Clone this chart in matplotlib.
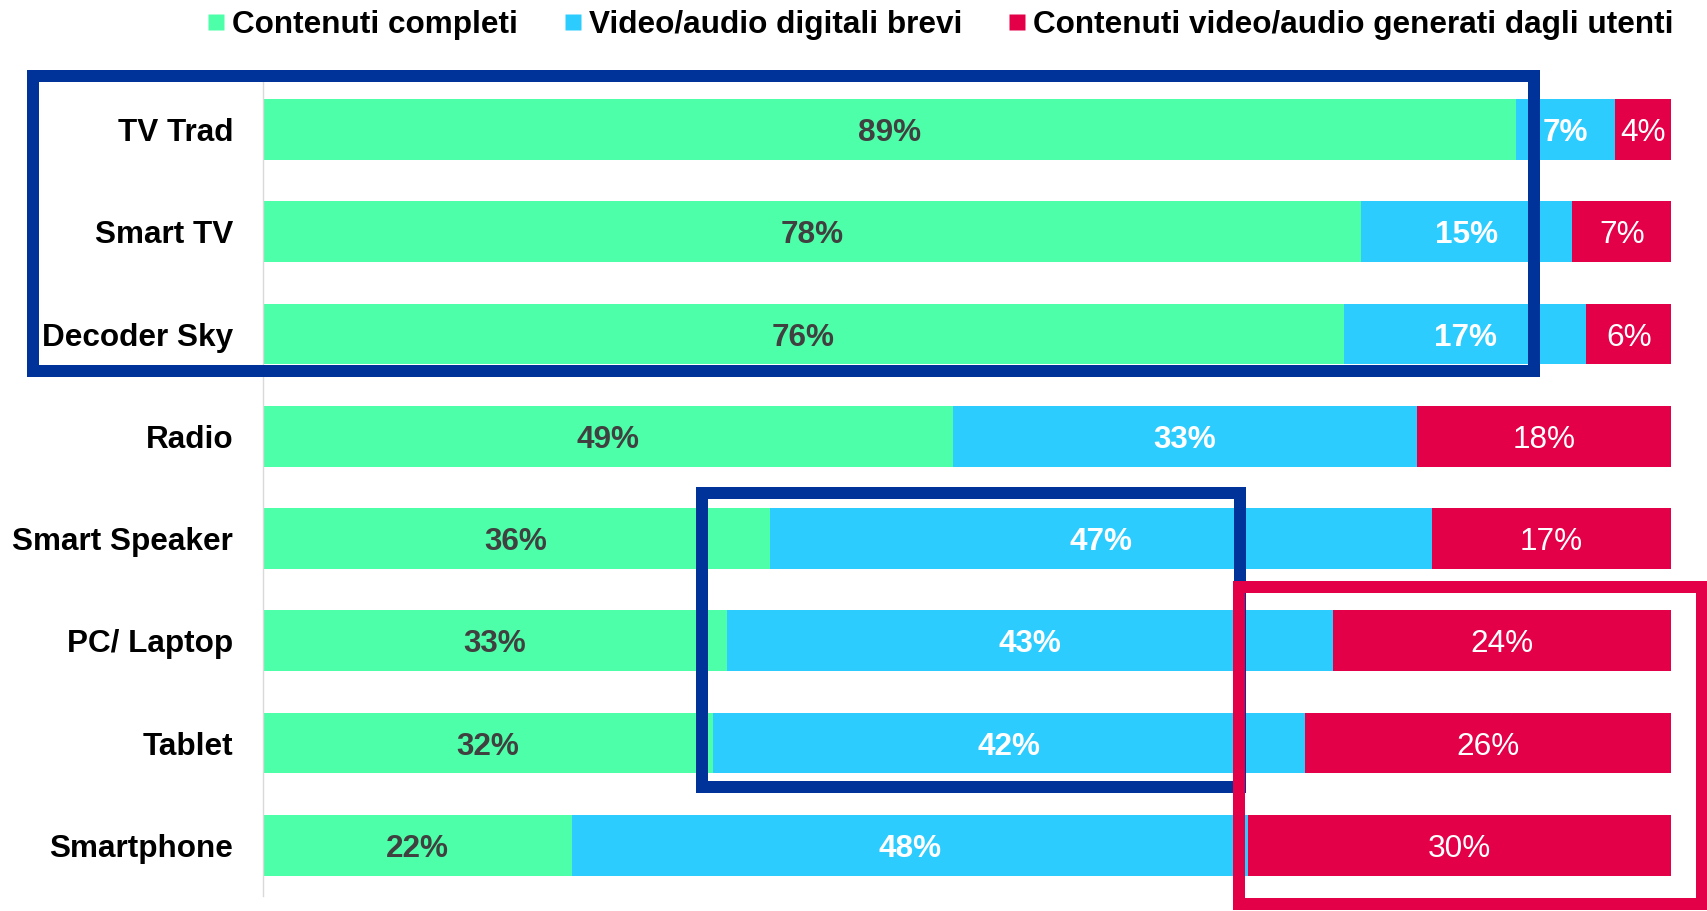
import matplotlib
matplotlib.use("Agg")
import matplotlib.pyplot as plt
from matplotlib.lines import Line2D
from matplotlib.patches import Rectangle
import numpy as np

plt.rcParams['font.family'] = ['Liberation Sans', 'DejaVu Sans']

# data (bar lengths in %, labels as printed)
devices = ["TV Trad", "Smart TV", "Decoder Sky", "Radio", "Smart Speaker",
           "PC/ Laptop", "Tablet", "Smartphone"]
completi = [89, 78, 76.8, 49, 36, 33, 32, 22]
brevi = [7, 15, 17.2, 33, 47, 43, 42, 48]
utenti = [4, 7, 6, 18, 17, 24, 26, 30]
series_names = ["Contenuti completi", "Video/audio digitali brevi",
                "Contenuti video/audio generati dagli utenti"]

green = "#4DFFA8"
cyan = "#2CCCFF"
red = "#E30048"
navy = "#003399"

W, H = 1708, 911
fig = plt.figure(figsize=(W / 100, H / 100), dpi=100)

# axes placed in pixel terms (left, top, right, bottom from top-left)
ax_l, ax_t, ax_r, ax_b = 262.5, 78.4, 1671, 896.4
ax = fig.add_axes([ax_l / W, 1 - ax_b / H, (ax_r - ax_l) / W, (ax_b - ax_t) / H])

y = np.arange(len(devices))
fs = 22.7
left = np.zeros(len(devices))
styles = [(completi, green, "#404040", "bold"),
          (brevi, cyan, "white", "bold"),
          (utenti, red, "white", "normal")]
for vals, col, tcol, tw in styles:
    vals = np.array(vals, dtype=float)
    ax.barh(y, vals, left=left, height=0.594, color=col, edgecolor="none")
    for yi, l, v in zip(y, left, vals):
        ax.text(l + v / 2, yi, f"{int(v)}%", ha="center", va="center_baseline",
                color=tcol, fontsize=fs, fontweight=tw)
    left += vals

ax.set_xlim(0, 100)
ax.set_ylim(len(devices) - 0.5, -0.5)
ax.set_yticks(y)
ax.set_yticklabels(devices, fontsize=fs, fontweight="bold")
ax.tick_params(axis="y", length=0, pad=21)
ax.set_xticks([])
for s in ["top", "right", "bottom"]:
    ax.spines[s].set_visible(False)
ax.spines["left"].set_color("#D9D9D9")
ax.spines["left"].set_linewidth(1)

# legend at top right
handles = [Line2D([], [], marker="s", linestyle="", markersize=12,
                  markerfacecolor=c, markeredgecolor="none")
           for c in [green, cyan, red]]
fig.legend(handles, series_names, loc="center right", ncol=3, frameon=False,
           bbox_to_anchor=(1674 / W, 1 - 25 / H), borderaxespad=0, borderpad=0,
           handlelength=0.55, handletextpad=0.25, columnspacing=1.45,
           prop={"size": fs, "weight": "bold"})


# highlight boxes (outer pixel edges), line 12 px thick
def box(x0, y0, x1, y1, color, lw_px=12):
    h = lw_px / 2
    r = Rectangle(((x0 + h) / W, 1 - (y1 - h) / H), (x1 - x0 - lw_px) / W,
                  (y1 - y0 - lw_px) / H, transform=fig.transFigure, fill=False,
                  edgecolor=color, linewidth=lw_px * 0.72, joinstyle="miter",
                  clip_on=False)
    fig.add_artist(r)


box(27, 70, 1540, 377, navy)
box(695.6, 487.3, 1245.8, 793.3, navy)
box(1233, 581, 1708, 910, red)

fig.savefig("out.png", dpi=100)
